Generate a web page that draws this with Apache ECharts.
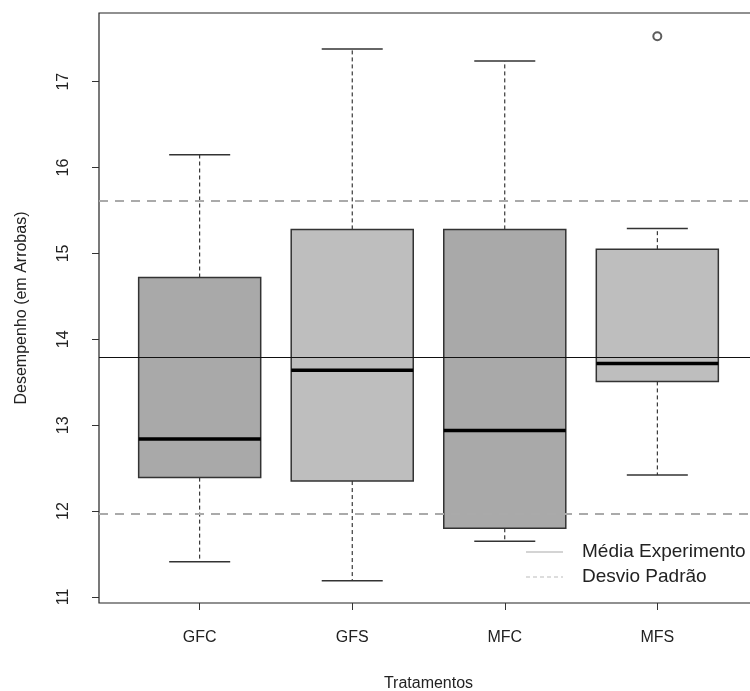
<!DOCTYPE html>
<html>
<head>
<meta charset="utf-8">
<script src="https://cdn.jsdelivr.net/npm/echarts@6/dist/echarts.min.js"></script>
<style>
html,body{margin:0;padding:0;background:#fff;}
#chart{width:750px;height:691px;}
</style>
</head>
<body>
<div id="chart"></div>
<script>
// Data
var categories = ['GFC', 'GFS', 'MFC', 'MFS'];
var lowWhisker = [11.41, 11.19, 11.65, 12.42];
var q1Values   = [12.39, 12.35, 11.80, 13.51];
var medians    = [12.84, 13.64, 12.94, 13.72];
var q3Values   = [14.72, 15.28, 15.28, 15.05];
var highWhisker= [16.15, 17.38, 17.24, 15.29];
var boxColors  = ['#a9a9a9', '#bebebe', '#a9a9a9', '#bebebe'];
var outliers   = [[4, 17.53]];
var meanValue  = 13.79;
var sdLower    = 11.97;
var sdUpper    = 15.61;
var yTicks     = [11, 12, 13, 14, 15, 16, 17];
var xTicks     = [1, 2, 3, 4];
var legendLabels = ['Média Experimento', 'Desvio Padrão'];

var boxData = categories.map(function (c, i) {
  return [i + 1, lowWhisker[i], q1Values[i], medians[i], q3Values[i], highWhisker[i], i];
});

var FONT = '"Liberation Sans", Arial, sans-serif';
var chart = echarts.init(document.getElementById('chart'), null, {renderer: 'canvas'});

function renderBox(params, api) {
  var x = api.value(0);
  var lo = api.value(1), q1 = api.value(2), md = api.value(3), q3 = api.value(4), hi = api.value(5);
  var idx = api.value(6);
  var hw = 0.4, cw = 0.2;
  function P(a, b) { return api.coord([a, b]); }
  var pTL = P(x - hw, q3), pBR = P(x + hw, q1);
  var children = [];
  function line(a, b, style) {
    children.push({type: 'line', shape: {x1: a[0], y1: a[1], x2: b[0], y2: b[1]}, style: style});
  }
  var dashStyle = {stroke: '#111', lineWidth: 1, lineDash: [4, 3]};
  var capStyle = {stroke: '#333', lineWidth: 1.5};
  line(P(x, q3), P(x, hi), dashStyle);
  line(P(x, q1), P(x, lo), dashStyle);
  line(P(x - cw, hi), P(x + cw, hi), capStyle);
  line(P(x - cw, lo), P(x + cw, lo), capStyle);
  children.push({
    type: 'rect',
    shape: {x: pTL[0], y: pTL[1], width: pBR[0] - pTL[0], height: pBR[1] - pTL[1]},
    style: {fill: boxColors[idx], stroke: '#333', lineWidth: 1.5}
  });
  line(P(x - hw, md), P(x + hw, md), {stroke: '#000', lineWidth: 3.5});
  return {type: 'group', children: children};
}

var option = {
  backgroundColor: '#fff',
  animation: false,
  grid: {
    left: 99, top: 13, width: 659, height: 590,
    outerBoundsMode: 'none', containLabel: false,
    show: true, borderColor: '#222', borderWidth: 1.2, backgroundColor: 'transparent'
  },
  xAxis: {
    type: 'value', min: 0.34, max: 4.66,
    name: 'Tratamentos', nameLocation: 'middle', nameGap: 73,
    nameTextStyle: {fontFamily: FONT, fontSize: 16, color: '#222'},
    axisLine: {show: false},
    splitLine: {show: false},
    axisTick: {show: true, length: 7, customValues: xTicks, lineStyle: {color: '#333', width: 1}},
    axisLabel: {
      customValues: xTicks, margin: 27, fontFamily: FONT, fontSize: 16, color: '#222',
      formatter: function (v) { return categories[Math.round(v) - 1] || ''; }
    }
  },
  yAxis: {
    type: 'value', min: 10.93, max: 17.80,
    name: 'Desempenho (em Arrobas)', nameLocation: 'middle', nameGap: 69, nameRotate: 90,
    nameTextStyle: {fontFamily: FONT, fontSize: 16, color: '#222'},
    axisLine: {show: false},
    splitLine: {show: false},
    axisTick: {show: true, length: 7, customValues: yTicks, lineStyle: {color: '#333', width: 1}},
    axisLabel: {
      customValues: yTicks, rotate: 90, margin: 27, fontFamily: FONT, fontSize: 16, color: '#222'
    }
  },
  series: [
    {
      type: 'scatter', name: 'outliers', z: 1,
      data: outliers, symbol: 'emptyCircle', symbolSize: 8,
      itemStyle: {color: '#333', borderColor: '#333', borderWidth: 1.2},
      markLine: {
        silent: true, symbol: 'none', label: {show: false},
        lineStyle: {color: '#aaa', width: 2, type: [9, 7]},
        data: [{yAxis: sdUpper}, {yAxis: sdLower}]
      }
    },
    {
      type: 'custom', name: 'boxes', z: 2,
      renderItem: renderBox, data: boxData,
      encode: {x: 0, y: [1, 2, 3, 4, 5]}
    },
    {
      type: 'line', name: 'mean', z: 3, data: [],
      markLine: {
        silent: true, symbol: 'none', label: {show: false},
        lineStyle: {color: '#111', width: 1, type: 'solid'},
        data: [{yAxis: meanValue}]
      }
    }
  ],
  graphic: [
    {type: 'line', shape: {x1: 526, y1: 552, x2: 563, y2: 552}, style: {stroke: '#aaa', lineWidth: 1.2}},
    {type: 'line', shape: {x1: 526, y1: 577, x2: 563, y2: 577}, style: {stroke: '#bbb', lineWidth: 1.2, lineDash: [4, 3]}},
    {type: 'text', x: 582, y: 552, style: {text: legendLabels[0], font: '19px ' + FONT, fill: '#222', textVerticalAlign: 'middle'}},
    {type: 'text', x: 582, y: 577, style: {text: legendLabels[1], font: '19px ' + FONT, fill: '#222', textVerticalAlign: 'middle'}}
  ]
};
chart.setOption(option);
</script>
</body>
</html>
